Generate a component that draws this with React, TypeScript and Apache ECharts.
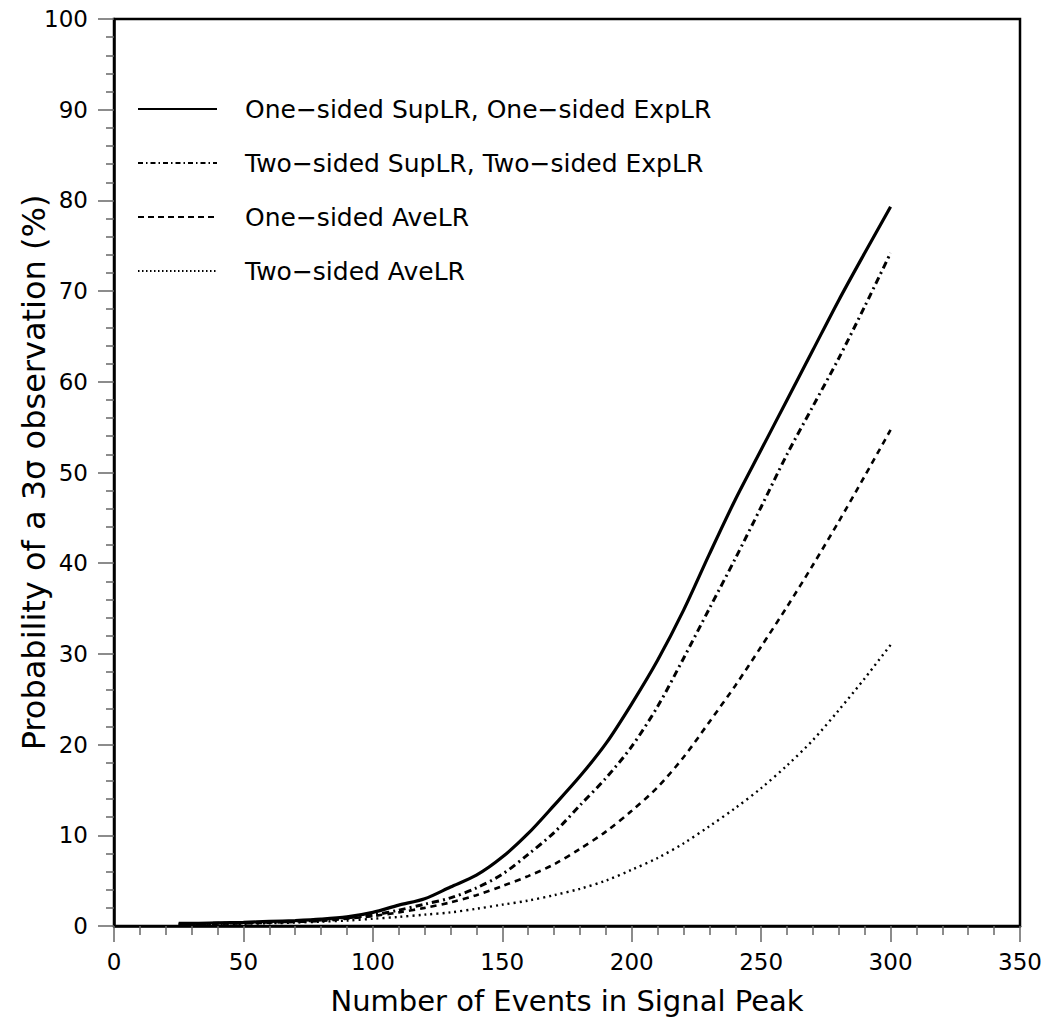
import React, { useEffect, useRef } from "react";
import * as echarts from "echarts";

const events = [25, 30, 40, 50, 60, 70, 80, 90, 100, 110, 120, 130, 140, 150, 160, 170, 180, 190, 200, 210, 220, 230, 240, 250, 260, 270, 280, 290, 300];

const oneSidedSup = [0.3, 0.3, 0.35, 0.4, 0.5, 0.6, 0.75, 1.0, 1.5, 2.3, 3.0, 4.3, 5.6, 7.6, 10.2, 13.3, 16.5, 20.1, 24.5, 29.3, 34.8, 41.0, 47.0, 52.5, 58.0, 63.5, 69.0, 74.2, 79.3];
const twoSidedSup = [0.25, 0.27, 0.3, 0.35, 0.42, 0.5, 0.65, 0.9, 1.2, 1.75, 2.4, 3.1, 4.2, 5.7, 7.9, 10.3, 13.3, 16.3, 19.8, 24.2, 29.5, 35.0, 40.5, 46.2, 52.0, 57.3, 62.6, 68.3, 74.2];
const oneSidedAve = [0.2, 0.22, 0.25, 0.3, 0.37, 0.45, 0.55, 0.8, 1.1, 1.5, 2.0, 2.6, 3.4, 4.4, 5.5, 6.8, 8.5, 10.4, 12.7, 15.3, 18.6, 22.5, 26.5, 30.8, 35.2, 39.8, 44.6, 49.6, 54.7];
const twoSidedAve = [0.15, 0.17, 0.2, 0.25, 0.3, 0.38, 0.48, 0.6, 0.8, 1.0, 1.25, 1.5, 1.9, 2.35, 2.8, 3.4, 4.1, 5.0, 6.2, 7.5, 9.1, 11.0, 13.0, 15.2, 17.7, 20.5, 23.8, 27.3, 31.0];

const seriesNames = [
  "One\u2212sided SupLR, One\u2212sided ExpLR",
  "Two\u2212sided SupLR, Two\u2212sided ExpLR",
  "One\u2212sided AveLR",
  "Two\u2212sided AveLR",
];

const xTitle = "Number of Events in Signal Peak";
const yTitle = "Probability of a 3\u03c3 observation (%)";

const FONT = "DejaVu Sans";

export default function App() {
  const ref = useRef<HTMLDivElement>(null);
  useEffect(() => {
    if (!ref.current) return;
    const chart = echarts.init(ref.current, undefined, { renderer: "svg" });
    const pairs = (ys: number[]) => events.map((x, i) => [x, ys[i]]);
    const styles = [
      { type: "solid" as any, width: 3.2 },
      { type: [7, 4, 2, 4] as any, width: 3 },
      { type: [6, 5] as any, width: 2.6 },
      { type: [2, 4] as any, width: 2.4 },
    ];
    const legendDash: any[] = [null, [5, 3, 1.5, 3], [6, 4], [1.5, 2.5]];
    const datas = [oneSidedSup, twoSidedSup, oneSidedAve, twoSidedAve];
    const legendGraphics: any[] = [];
    seriesNames.forEach((name, i) => {
      const y = 109 + 54 * i;
      legendGraphics.push({
        type: "line",
        shape: { x1: 138, y1: y, x2: 217, y2: y },
        style: { stroke: "#000", lineWidth: 2, lineDash: legendDash[i] || undefined },
      });
      legendGraphics.push({
        type: "text",
        x: 245,
        y: y,
        style: {
          text: name,
          fontFamily: FONT,
          fontSize: 25,
          fill: "#000",
          verticalAlign: "middle",
          align: "left",
        },
      });
    });
    chart.setOption({
      animation: false,
      backgroundColor: "#ffffff",
      grid: {
        left: 114,
        right: 27,
        top: 19,
        bottom: 100,
        outerBoundsMode: "none",
        containLabel: false,
        show: true,
        borderColor: "#000",
        borderWidth: 2.5,
        backgroundColor: "transparent",
      },
      graphic: legendGraphics,
      xAxis: {
        type: "value",
        min: 0,
        max: 350,
        interval: 50,
        name: xTitle,
        nameLocation: "middle",
        nameGap: 60,
        nameMoveOverlap: false,
        nameTextStyle: { fontFamily: FONT, fontSize: 29, color: "#000" },
        axisLine: { show: true, lineStyle: { color: "#000", width: 2.5 } },
        axisTick: { show: true, inside: false, length: 16, lineStyle: { color: "#666", width: 1.5 } },
        minorTick: { show: true, splitNumber: 5, length: 9, lineStyle: { color: "#666", width: 1.5 } },
        axisLabel: { fontFamily: FONT, fontSize: 23, color: "#000", margin: 24 },
        splitLine: { show: false },
      },
      yAxis: {
        type: "value",
        min: 0,
        max: 100,
        interval: 10,
        name: yTitle,
        nameLocation: "middle",
        nameGap: 64,
        nameMoveOverlap: false,
        nameTextStyle: { fontFamily: FONT, fontSize: 32, color: "#000" },
        axisLine: { show: true, lineStyle: { color: "#000", width: 2.5 } },
        axisTick: { show: true, inside: false, length: 16, lineStyle: { color: "#666", width: 1.5 } },
        minorTick: { show: true, splitNumber: 5, length: 8, lineStyle: { color: "#666", width: 1.5 } },
        axisLabel: { fontFamily: FONT, fontSize: 23, color: "#000", margin: 26 },
        splitLine: { show: false },
      },
      series: datas.map((d, i) => ({
        name: seriesNames[i],
        type: "line",
        data: pairs(d),
        symbol: "none",
        showSymbol: false,
        smooth: 0.3,
        lineStyle: { color: "#000", ...styles[i] },
        itemStyle: { color: "#000" },
      })),
    });
    return () => chart.dispose();
  }, []);
  return (
    <div
      ref={ref}
      style={{ position: "fixed", left: 0, top: 0, width: 1047, height: 1026 }}
    />
  );
}
